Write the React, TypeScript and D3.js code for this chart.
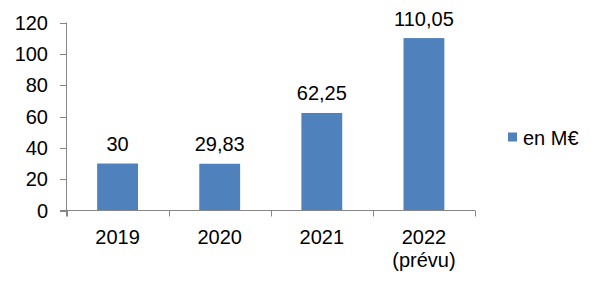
import React from "react";
import * as d3 from "d3";

const categories: string[][] = [["2019"], ["2020"], ["2021"], ["2022", "(prévu)"]];
const values: number[] = [30, 29.83, 62.25, 110.05];
const valueLabels: string[] = ["30", "29,83", "62,25", "110,05"];
const yTicks: number[] = [0, 20, 40, 60, 80, 100, 120];
const seriesName = "en M€";

const W = 602;
const H = 284;
const FONT = "Liberation Sans, Arial, sans-serif";
const BAR = "#4F81BD";
const AXIS = "#868686";

export default function App() {
  const x = d3
    .scaleBand<number>()
    .domain(d3.range(values.length))
    .range([66.5, 475])
    .paddingInner(0.6)
    .paddingOuter(0.3);
  const band = d3.scaleBand<number>().domain(d3.range(values.length)).range([66.5, 475]);
  const y = d3.scaleLinear().domain([0, 120]).range([210.5, 22.5]);

  return (
    <svg
      width={W}
      height={H}
      style={{ position: "absolute", left: 0, top: 0 }}
      fontFamily={FONT}
    >
      <rect width={W} height={H} fill="#fff" />
      {/* bars */}
      {values.map((v, i) => (
        <rect
          key={i}
          x={x(i)}
          y={y(v)}
          width={x.bandwidth()}
          height={y(0) - y(v)}
          fill={BAR}
        />
      ))}
      {/* value labels */}
      {values.map((v, i) => (
        <text
          key={i}
          x={(x(i) as number) + x.bandwidth() / 2}
          y={y(v) - 12.5}
          textAnchor="middle"
          fontSize={20}
          fill="#000"
        >
          {valueLabels[i]}
        </text>
      ))}
      {/* y axis */}
      <line x1={66.5} x2={66.5} y1={y(120)} y2={216.5} stroke={AXIS} strokeWidth={1} />
      {yTicks.map((t) => (
        <g key={t}>
          <line x1={60} x2={66.5} y1={Math.round(y(t)) + 0.5} y2={Math.round(y(t)) + 0.5} stroke={AXIS} />
          <text x={48} y={y(t) + 7} textAnchor="end" fontSize={20} fill="#000">
            {t}
          </text>
        </g>
      ))}
      {/* x axis */}
      <line x1={60} x2={475} y1={210.5} y2={210.5} stroke={AXIS} />
      {d3.range(values.length + 1).map((i) => {
        const px = Math.round(i < values.length ? (band(i) as number) : 475) + 0.5;
        return <line key={i} x1={px} x2={px} y1={210.5} y2={216.5} stroke={AXIS} />;
      })}
      {categories.map((lines, i) => (
        <text
          key={i}
          x={(band(i) as number) + band.bandwidth() / 2}
          y={243.5}
          textAnchor="middle"
          fontSize={20}
          fill="#000"
        >
          {lines.map((l, j) => (
            <tspan key={j} x={(band(i) as number) + band.bandwidth() / 2} dy={j === 0 ? 0 : 23}>
              {l}
            </tspan>
          ))}
        </text>
      ))}
      {/* legend */}
      <rect x={508} y={132.5} width={9} height={9} fill={BAR} />
      <text x={523} y={144.5} fontSize={20} fill="#000">
        {seriesName}
      </text>
    </svg>
  );
}
